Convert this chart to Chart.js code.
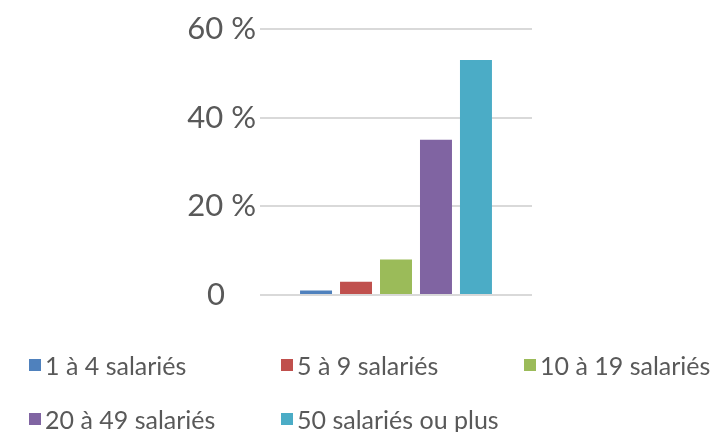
<!DOCTYPE html>
<html>
<head>
<meta charset="utf-8">
<script src="https://cdn.jsdelivr.net/npm/chart.js@4"></script>
<style>
  html, body { margin: 0; padding: 0; background: #fff; }
  #wrap { position: relative; width: 721px; height: 432px; }
  #legend { position: absolute; left: 0; top: 0; width: 721px; height: 432px; pointer-events: none;
    font-family: Lato, 'Open Sans', sans-serif; font-size: 25px; color: #595959; }
  .item { position: absolute; display: flex; align-items: center; white-space: nowrap; }
  .box { width: 12px; height: 12px; margin-right: 4px; }
</style>
</head>
<body>
<div id="wrap">
  <canvas id="c" width="721" height="432"></canvas>
  <div id="legend"></div>
</div>
<script>
const seriesLabels = ['1 à 4 salariés', '5 à 9 salariés', '10 à 19 salariés', '20 à 49 salariés', '50 salariés ou plus'];
const seriesValues = [1, 3, 8, 35, 53];
const seriesColors = ['#4F81BD', '#C0504D', '#9BBB59', '#8064A2', '#4BACC6'];
const yTicks = [0, 20, 40, 60];

// legend cells (column x, row y) - laid out like the original two-row legend
const legendPos = [[29, 366], [281, 366], [524, 366], [29, 420], [281, 420]];

const datasets = seriesLabels.map((lab, i) => ({
  label: lab,
  data: [seriesValues[i]],
  backgroundColor: seriesColors[i],
  categoryPercentage: 0.735,
  barPercentage: 0.8
}));

const chart = new Chart(document.getElementById('c'), {
  type: 'bar',
  data: { labels: [''], datasets },
  options: {
    responsive: false, animation: false,
    layout: { padding: { left: 0, right: 189, top: 29, bottom: 137 } },
    plugins: { legend: { display: false }, tooltip: { enabled: false } },
    scales: {
      x: { display: false },
      y: {
        min: yTicks[0], max: yTicks[yTicks.length-1],
        afterFit: (s) => { s.width = 260; },
        afterBuildTicks: (s) => { s.ticks = yTicks.map(v => ({ value: v })); },
        border: { display: false },
        grid: { color: '#D9D9D9', lineWidth: 2, drawTicks: false },
        ticks: {
          color: '#595959', padding: 4,
          font: { family: 'Lato, "Open Sans", sans-serif', size: 31 },
          callback: (v) => v === 0 ? '0\u2002\u2002' : v + ' %'
        }
      }
    }
  }
});

const leg = document.getElementById('legend');
chart.data.datasets.forEach((ds, i) => {
  const it = document.createElement('div');
  it.className = 'item';
  it.style.left = legendPos[i][0] + 'px';
  it.style.top = (legendPos[i][1] - 16) + 'px';
  it.innerHTML = '<span class="box" style="background:' + ds.backgroundColor + '"></span><span>' + ds.label + '</span>';
  leg.appendChild(it);
});
</script>
</body>
</html>
